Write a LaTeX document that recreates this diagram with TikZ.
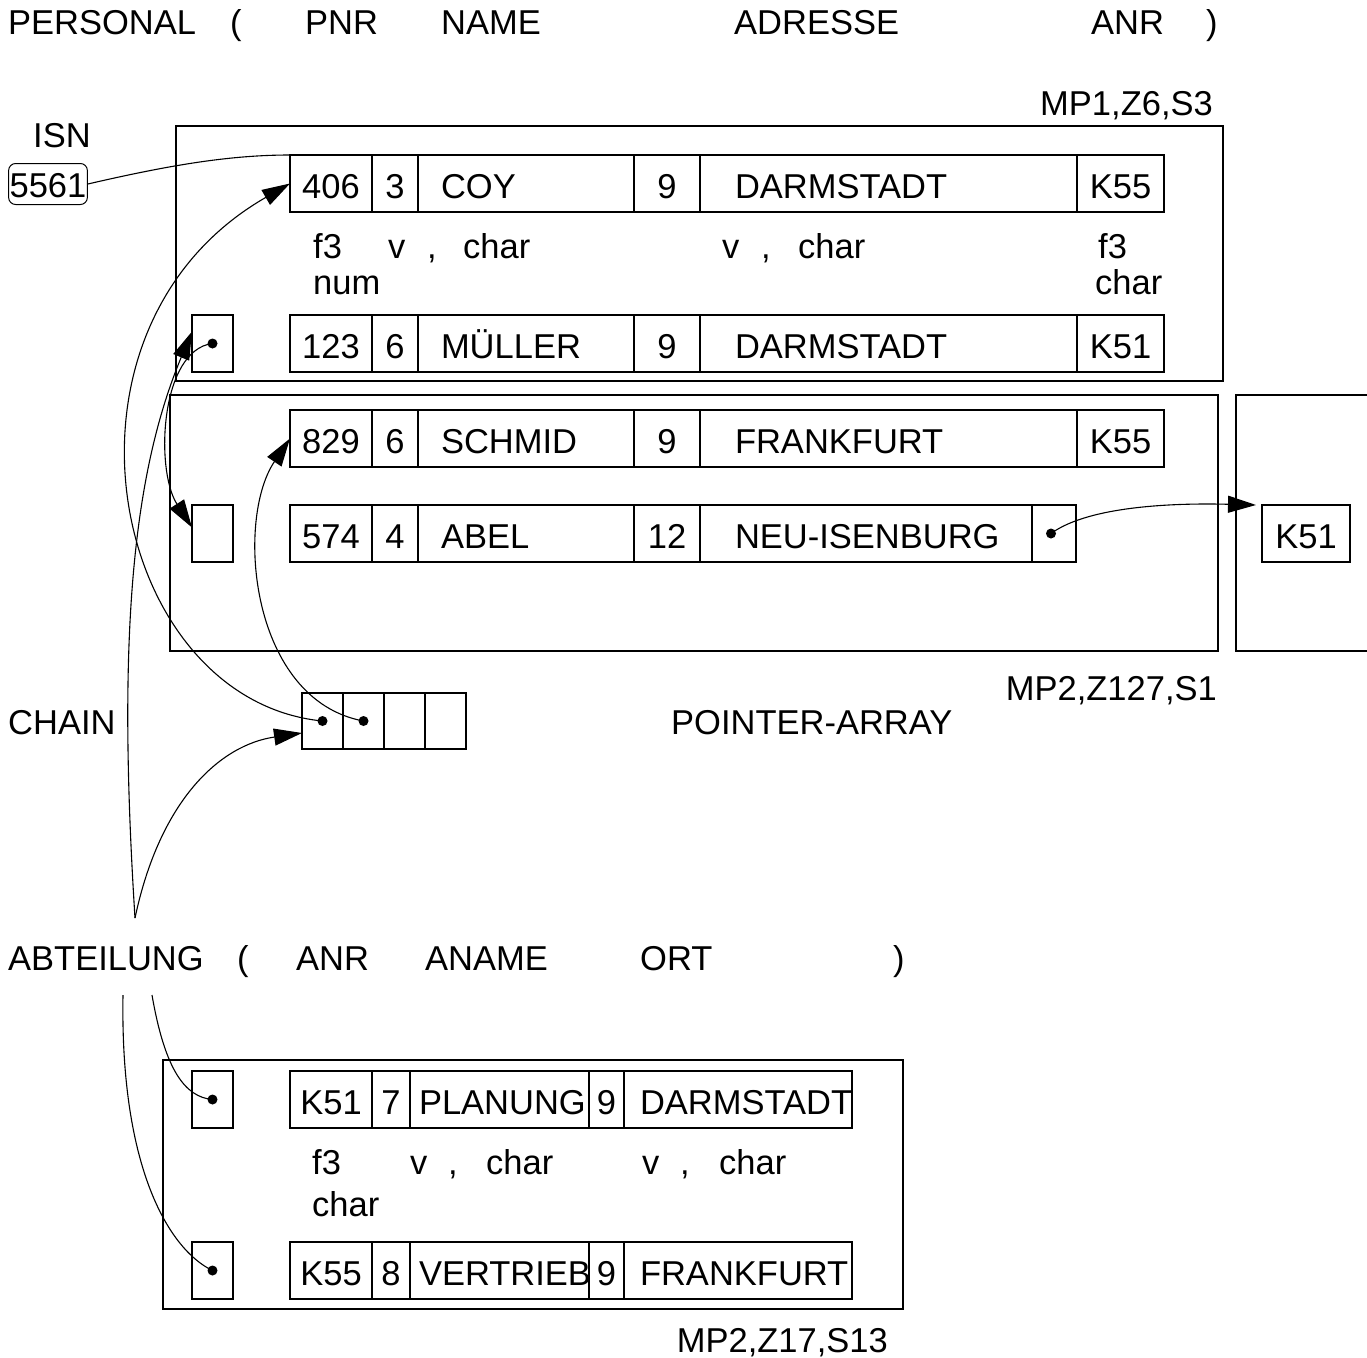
\documentclass[tikz,border=0pt]{standalone}
\usepackage{fontspec}
\setmainfont{Liberation Sans}
\usetikzlibrary{positioning,arrows.meta}
\hyphenpenalty=10000
\exhyphenpenalty=10000

\tikzset{
    cell/.style={draw, line width=1.8pt, inner sep=0pt, outer sep=0pt, minimum height=57pt, text height=29pt, text depth=0pt},
    pnrfld/.style={cell, minimum width=82pt},
    lenfld/.style={cell, minimum width=46pt},
    namefld/.style={cell, text width=170pt, inner xsep=23pt, align=left},
    numfld/.style={cell, minimum width=66pt},
    ortfld/.style={cell, text width=307pt, inner xsep=35pt, align=left},
    anrfld/.style={cell, minimum width=87pt},
    ptr/.style={cell, minimum width=41pt},
    page/.style={draw, line width=1.8pt, anchor=north west, inner sep=0pt, outer sep=0pt},
    lbl/.style={anchor=base west, inner sep=0pt},
    link/.style={line width=1.1pt},
}

\begin{document}
\begin{tikzpicture}[x=1pt, y=-1pt, every node/.style={font=\fontsize{34.5}{41}\selectfont}, >={Triangle[length=28pt,width=17pt]}]
    \useasboundingbox (0,0) rectangle (1367,1357);

    % relation PERSONAL
    \node[lbl] (pers) at (8,34) {PERSONAL};
    \node[lbl] (perslp) at (230,34) {(};
    \node[lbl] (perspnr) at (305,34) {PNR};
    \node[lbl] (persname) at (441,34) {NAME};
    \node[lbl] (persadr) at (734,34) {ADRESSE};
    \node[lbl] (persanr) at (1091,34) {ANR};
    \node[lbl] (persrp) at (1206,34) {)};

    \node[lbl, anchor=base east] (mp1) at (1213,115) {MP1,Z6,S3};
    \node[lbl] (isn) at (33,147) {ISN};
    \node[draw, line width=1pt, rounded corners=7pt, inner xsep=1pt, inner ysep=0pt, minimum height=41pt, text height=27pt, text depth=0pt] (isnval) at (48,184) {5561};

    % page MP1
    \node[page, minimum width=1047pt, minimum height=255pt] (mp1box) at (176,126) {};

    \node[pnrfld, anchor=north west] (r1a) at (290,155) {406};
    \node[lenfld, right=0pt of r1a] (r1b) {3};
    \node[namefld, right=0pt of r1b] (r1c) {COY};
    \node[numfld, right=0pt of r1c] (r1d) {9};
    \node[ortfld, right=0pt of r1d] (r1e) {DARMSTADT};
    \node[anrfld, right=0pt of r1e] (r1f) {K55};

    \node[lbl] (t1) at (313,258) {f3};
    \node[lbl] (t2) at (388,258) {v};
    \node[lbl] (t3) at (427,258) {,};
    \node[lbl] (t4) at (463,258) {char};
    \node[lbl] (t5) at (722,258) {v};
    \node[lbl] (t6) at (761,258) {,};
    \node[lbl] (t7) at (798,258) {char};
    \node[lbl] (t8) at (1098,258) {f3};
    \node[lbl] (t9) at (313,294) {num};
    \node[lbl] (t10) at (1095,294) {char};

    \node[ptr, anchor=north west] (r2ptr) at (192,315) {};
    \node[pnrfld, anchor=north west] (r2a) at (290,315) {123};
    \node[lenfld, right=0pt of r2a] (r2b) {6};
    \node[namefld, right=0pt of r2b] (r2c) {MÜLLER};
    \node[numfld, right=0pt of r2c] (r2d) {9};
    \node[ortfld, right=0pt of r2d] (r2e) {DARMSTADT};
    \node[anrfld, right=0pt of r2e] (r2f) {K51};
    \fill (r2ptr) circle (5pt);

    % page MP2
    \node[page, minimum width=1048pt, minimum height=256pt] (mp2box) at (170,395) {};
    \node[lbl, anchor=base east] (mp2) at (1217,700) {MP2,Z127,S1};

    \node[pnrfld, anchor=north west] (r3a) at (290,410) {829};
    \node[lenfld, right=0pt of r3a] (r3b) {6};
    \node[namefld, right=0pt of r3b] (r3c) {SCHMID};
    \node[numfld, right=0pt of r3c] (r3d) {9};
    \node[ortfld, right=0pt of r3d] (r3e) {FRANKFURT};
    \node[anrfld, right=0pt of r3e] (r3f) {K55};

    \node[ptr, anchor=north west] (r4ptr) at (192,505) {};
    \node[pnrfld, anchor=north west] (r4a) at (290,505) {574};
    \node[lenfld, right=0pt of r4a] (r4b) {4};
    \node[namefld, right=0pt of r4b] (r4c) {ABEL};
    \node[numfld, right=0pt of r4c] (r4d) {12};
    \node[ortfld, text width=262pt, right=0pt of r4d] (r4e) {NEU-ISENBURG};
    \node[cell, minimum width=44pt, right=0pt of r4e] (r4f) {};
    \fill ([xshift=-3pt]r4f.center) circle (5pt);

    % next page
    \draw[line width=1.8pt] (1367,395) -- (1236,395) -- (1236,651) -- (1367,651);
    \node[cell, minimum width=88pt, anchor=north west] (k51) at (1262,505) {K51};

    % pointer array
    \node[lbl] (chain) at (8,734) {CHAIN};
    \node[ptr, minimum height=56pt, anchor=north west] (pa1) at (302,693) {};
    \node[ptr, minimum height=56pt, right=0pt of pa1] (pa2) {};
    \node[ptr, minimum height=56pt, right=0pt of pa2] (pa3) {};
    \node[ptr, minimum height=56pt, right=0pt of pa3] (pa4) {};
    \fill (pa1) circle (5pt);
    \fill (pa2) circle (5pt);
    \node[lbl] (parray) at (671,734) {POINTER-ARRAY};

    % relation ABTEILUNG
    \node[lbl] (abt) at (8,970) {ABTEILUNG};
    \node[lbl] (abtlp) at (237,970) {(};
    \node[lbl] (abtanr) at (296,970) {ANR};
    \node[lbl] (abtaname) at (425,970) {ANAME};
    \node[lbl] (abtort) at (640,970) {ORT};
    \node[lbl] (abtrp) at (893,970) {)};
    \coordinate (abtup) at (135,918);
    \coordinate (abtdn1) at (152,995);
    \coordinate (abtdn2) at (123,995);

    \node[page, minimum width=740pt, minimum height=249pt] (mp3box) at (163,1060) {};
    \node[lbl, anchor=base east] (mp3) at (888,1352) {MP2,Z17,S13};

    \node[ptr, anchor=north west] (a1ptr) at (192,1071) {};
    \node[pnrfld, anchor=north west] (a1a) at (290,1071) {K51};
    \node[cell, minimum width=38pt, right=0pt of a1a] (a1b) {7};
    \node[cell, text width=161pt, inner xsep=9pt, align=left, right=0pt of a1b] (a1c) {PLANUNG};
    \node[cell, minimum width=35pt, right=0pt of a1c] (a1d) {9};
    \node[cell, text width=196pt, inner xsep=16pt, align=left, right=0pt of a1d] (a1e) {DARMSTADT};
    \fill (a1ptr) circle (5pt);

    \node[lbl] (u1) at (312,1174) {f3};
    \node[lbl] (u2) at (410,1174) {v};
    \node[lbl] (u3) at (448,1174) {,};
    \node[lbl] (u4) at (486,1174) {char};
    \node[lbl] (u5) at (642,1174) {v};
    \node[lbl] (u6) at (680,1174) {,};
    \node[lbl] (u7) at (719,1174) {char};
    \node[lbl] (u8) at (312,1216) {char};

    \node[ptr, anchor=north west] (a2ptr) at (192,1242) {};
    \node[pnrfld, anchor=north west] (a2a) at (290,1242) {K55};
    \node[cell, minimum width=38pt, right=0pt of a2a] (a2b) {8};
    \node[cell, text width=161pt, inner xsep=9pt, align=left, right=0pt of a2b] (a2c) {VERTRIEB};
    \node[cell, minimum width=35pt, right=0pt of a2c] (a2d) {9};
    \node[cell, text width=196pt, inner xsep=16pt, align=left, right=0pt of a2d] (a2e) {FRANKFURT};
    \fill (a2ptr) circle (5pt);

    % connectors
    \draw[link] (isnval.east) .. controls (170,165) and (230,155) .. (r1a.north west);
    \draw[link, ->] (pa1.center) .. controls (110,700) and (35,330) .. (r1a.west);
    \draw[link, ->] (abtup) .. controls (118,650) and (130,480) .. ([yshift=12pt]r2ptr.west);
    \draw[link, ->] (r2ptr.center) .. controls (160,350) and (155,470) .. ([yshift=6pt]r4ptr.west);
    \draw[link, ->] (pa2.center) .. controls (250,700) and (235,520) .. (r3a.west);
    \draw[link, ->] (abtup) .. controls (160,800) and (220,745) .. ([yshift=-12pt]pa1.west);
    \draw[link, ->] ([xshift=-3pt]r4f.center) .. controls (1090,505) and (1180,503) .. ([xshift=-6pt]k51.north west);
    \draw[link] (abtdn1) .. controls (165,1070) and (185,1097) .. (a1ptr.center);
    \draw[link] (abtdn2) .. controls (120,1170) and (170,1250) .. (a2ptr.center);
\end{tikzpicture}
\end{document}
